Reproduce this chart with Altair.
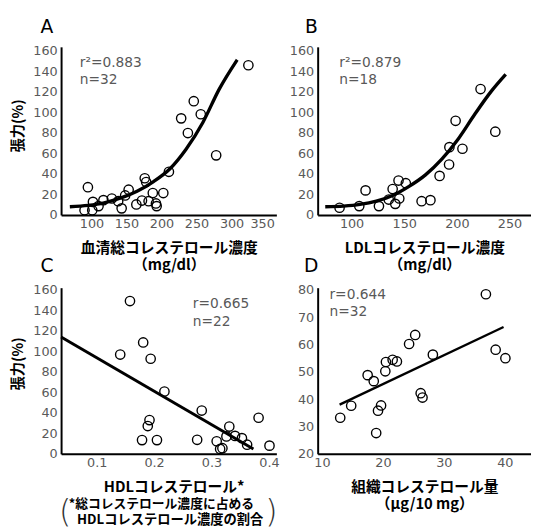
import altair as alt
import pandas as pd

NUM_FONT = "DejaVu Sans"
JP_FONT = "Noto Sans CJK JP"
GRAY = "#595959"

# ---------------- Panel A ----------------
a_x = [94.8, 102, 90, 101, 110, 117, 129, 138, 143, 148, 153, 164, 172, 176, 178,
       181.5, 187.5, 192, 193, 202.5, 210.5, 228, 237.6, 246, 256, 278, 324]
a_y = [27, 12.7, 4.5, 4.5, 8.6, 14.4, 16, 13.4, 6.4, 19, 24.6, 10.2, 14, 35.7, 32,
       13.4, 21.3, 11.2, 8.6, 21.3, 42, 94, 79.7, 110.7, 98, 58, 145.7]
a_fit_x = [69, 95, 118, 142, 165, 188.5, 212, 235, 259, 282, 308]
a_fit_y = [8, 9.3, 11.8, 16.6, 23, 32.5, 45, 64, 90, 122, 151]
a_xticks = [100, 150, 200, 250, 300, 350]

# ---------------- Panel B ----------------
b_x = [222.5, 198.8, 236.5, 192.9, 205.3, 192.6, 183.6, 144.6, 151.5, 113.3,
       139, 145.3, 135.3, 141.5, 166.5, 174.9, 126, 107.3, 88.6]
b_y = [122.5, 91.6, 81, 66, 64.4, 49.1, 38, 33.5, 30.9, 23.9,
       25.2, 16, 15, 10.8, 13.4, 14.4, 8.6, 8.6, 7]
b_fit_x = [75, 92.3, 108, 123.5, 139, 154.6, 170.2, 185.7, 201.3, 217, 232.4, 246.4]
b_fit_y = [8, 8.6, 10.2, 13.4, 19, 27.8, 39, 54.3, 74, 98, 120, 136.8]
b_xticks = [100, 150, 200, 250]

# ---------------- Panel C ----------------
c_x = [0.158, 0.181, 0.141, 0.194, 0.218, 0.283, 0.382, 0.192, 0.189, 0.331, 0.179,
       0.205, 0.275, 0.309, 0.326, 0.341, 0.353, 0.362, 0.401, 0.315, 0.319]
c_y = [149, 108.6, 96.8, 92.7, 60.7, 42.2, 35.2, 32.9, 27.1, 26.6, 13.4,
       13.4, 13.7, 12.2, 17, 17.5, 15.3, 8.9, 8, 4.8, 5.5]
c_fit_x = [0.038, 0.373]
c_fit_y = [114, 4.8]
c_xticks = [0.1, 0.2, 0.3, 0.4]

# ---------------- Panel D ----------------
d_x = [36.9, 25.3, 24.3, 28.2, 38.5, 40.1, 20.5, 21.6, 22.3, 20.4, 17.5, 18.5,
       26.2, 26.5, 14.8, 19.7, 19.2, 13, 18.9]
d_y = [78.4, 63.5, 60.2, 56.3, 58.1, 55, 53.6, 54.4, 53.8, 50.2, 48.8, 46.6,
       42.2, 40.6, 37.6, 37.7, 35.8, 33.2, 27.6]
d_fit_x = [12.9, 39.8]
d_fit_y = [38, 66.4]
d_xticks = [10, 20, 30, 40]

y_ticks_abc = [0, 20, 40, 60, 80, 100, 120, 140, 160]
y_ticks_d = [20, 30, 40, 50, 60, 70, 80]

Y_TITLE = "張力(%)"


def txt(s, x, y, size=14, color=GRAY, font=NUM_FONT, weight="normal", align="left",
        baseline="middle"):
    return alt.Chart(pd.DataFrame({"t": [s]})).mark_text(
        font=font, fontSize=size, color=color, fontWeight=weight, align=align,
        baseline=baseline
    ).encode(text="t:N", x=alt.value(x), y=alt.value(y))


def panel(px, py, fx, fy, xdom, ydom, xticks, yticks, w, h, xtitle, ytitle,
          line_w, extras, title_y=80, xfmt="d", last_label=None):
    pts = pd.DataFrame({"x": px, "y": py})
    fit = pd.DataFrame({"x": fx, "y": fy})
    common = dict(labelFlush=False, labelOverlap=False, labelBound=False,
                  ticks=False, grid=False, domainColor="black", domainWidth=2)
    xaxis_kw = dict(values=xticks, tickCount=len(xticks), labelPadding=3, titlePadding=10,
                    titleLineHeight=18, titleFontSize=15, format=xfmt, **common)
    yaxis_kw = dict(values=yticks, tickCount=len(yticks), labelPadding=4, titlePadding=7,
                    titleFontSize=14.5, titleY=title_y, format="d", **common)
    xaxis = alt.Axis(title=xtitle, **xaxis_kw) if xtitle else alt.Axis(title=None, **xaxis_kw)
    yaxis = alt.Axis(title=ytitle, **yaxis_kw) if ytitle else alt.Axis(title=None, **yaxis_kw)
    xs = alt.Scale(domain=xdom, nice=False, zero=False)
    ys = alt.Scale(domain=ydom, nice=False, zero=False)
    xenc = alt.X("x:Q", scale=xs, axis=xaxis)
    yenc = alt.Y("y:Q", scale=ys, axis=yaxis)
    line = alt.Chart(fit).mark_line(color="black", strokeWidth=line_w,
                                    interpolate="monotone").encode(x=xenc, y=yenc)
    dots = alt.Chart(pts).mark_point(shape="circle", filled=False, color="black",
                                     size=90, strokeWidth=1.4, opacity=1).encode(x=xenc, y=yenc)
    layers = [line, dots]
    if last_label is not None:
        # last tick label, placed on the same x scale
        layers.append(
            alt.Chart(pd.DataFrame({"x": [last_label]})).mark_text(
                font=NUM_FONT, fontSize=13, color=GRAY, baseline="top", align="center",
                dx=-4
            ).encode(x=xenc, y=alt.value(h + 3), text=alt.Text("x:Q", format="d"))
        )
    return alt.layer(*layers, *extras).properties(width=w, height=h)


pA = panel(a_x, a_y, a_fit_x, a_fit_y, [56.5, 364], [0, 163.6], a_xticks[:-1], y_ticks_abc,
           219, 171, ["血清総コレステロール濃度", "（mg/dl）"], Y_TITLE, 3.4,
           [txt("r²=0.883", 19, 17), txt("n=32", 19, 34),
            txt("A", -21, -14, size=19, color="black", baseline="alphabetic")],
           title_y=80, last_label=a_xticks[-1])

pB = panel(b_x, b_y, b_fit_x, b_fit_y, [67.8, 270.4], [0, 163.6], b_xticks, y_ticks_abc,
           217, 171, ["LDLコレステロール濃度", "（mg/dl）"], None, 3.4,
           [txt("r²=0.879", 22, 16), txt("n=18", 22, 34),
            txt("B", -13, -14, size=19, color="black", baseline="alphabetic")])

c_extras = [
    txt("r=0.665", 134, 17), txt("n=22", 134, 35),
    txt("C", -21, -16, size=19, color="black", baseline="alphabetic"),
    txt("HDLコレステロール*", 115, 203, size=15, font=JP_FONT, weight="bold",
        color="black", align="center"),
    txt("*総コレステロール濃度に占める", 102, 220, size=13, font=JP_FONT, weight="bold",
        color="black", align="center"),
    txt("HDLコレステロール濃度の割合", 111, 236, size=13.5, font=JP_FONT, weight="bold",
        color="black", align="center"),
    txt("(", 4, 228, size=32, font=NUM_FONT, weight=200, color="#333333", align="center"),
    txt(")", 214, 228, size=32, font=NUM_FONT, weight=200, color="#333333", align="center"),
]
pC = panel(c_x, c_y, c_fit_x, c_fit_y, [0.038, 0.413], [0, 162], c_xticks, y_ticks_abc,
           219, 169, None, Y_TITLE, 3.0, c_extras, title_y=77, xfmt=".1f")

pD = panel(d_x, d_y, d_fit_x, d_fit_y, [9.3, 44.3], [20, 80.8], d_xticks, y_ticks_d,
           217, 169, ["組織コレステロール量", "（µg/10 mg）"], None, 2.4,
           [txt("r=0.644", 12, 7), txt("n=32", 12, 25),
            txt("D", -14, -16, size=19, color="black", baseline="alphabetic")])

chart = alt.concat(pA, pB, pC, pD, columns=2, spacing={"row": 74, "column": 42},
                   bounds="flush").properties(
    padding={"left": 3, "top": 6, "right": 0, "bottom": 0}
).configure_view(stroke=None).configure_axis(
    grid=False, ticks=False, domainColor="black", domainWidth=2,
    labelOverlap=False, labelBound=False, labelFlush=False,
    labelFont=NUM_FONT, labelFontSize=13, labelColor=GRAY,
    titleFont=JP_FONT, titleFontSize=14, titleFontWeight="bold", titleColor="black",
)

chart.save("out.html", embed_options={"renderer": "svg", "actions": False})
